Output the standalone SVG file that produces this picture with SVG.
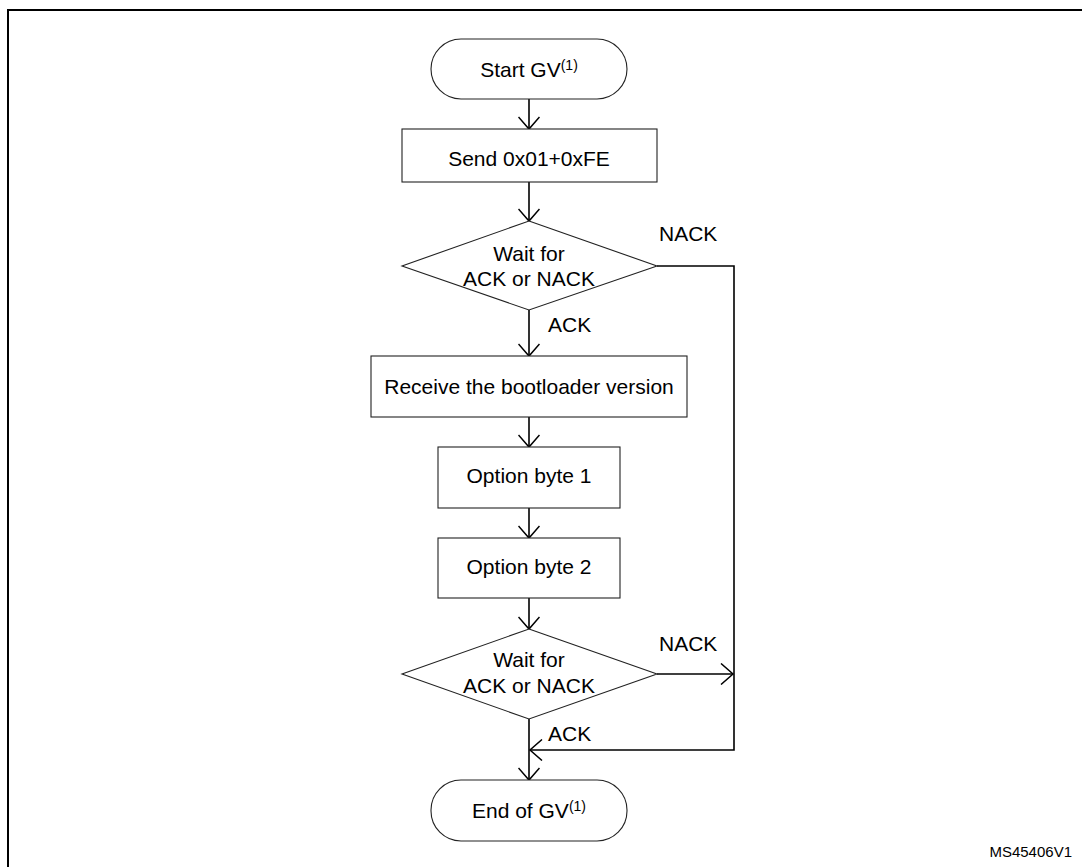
<svg xmlns="http://www.w3.org/2000/svg" width="1082" height="867" viewBox="0 0 1082 867">
  <defs>
    <marker id="arr" viewBox="-13 -11 15 22" refX="0" refY="0" markerWidth="15" markerHeight="22" markerUnits="userSpaceOnUse" orient="auto">
      <path d="M -12 -10.5 L 0 0 L -12 10.5" fill="none" stroke="#000" stroke-width="1.5"/>
    </marker>
    <style>
      .shape { fill: #fff; stroke: #222; stroke-width: 1.1; }
      .conn { fill: none; stroke: #000; stroke-width: 1.6; }
      .t { font-family: "Liberation Sans", Arial, sans-serif; font-size: 21px; fill: #000; }
      .c { text-anchor: middle; }
      .sup { font-size: 14px; }
      .ref { font-family: "Liberation Sans", Arial, sans-serif; font-size: 15px; fill: #000; }
    </style>
  </defs>
  <rect x="0" y="0" width="1082" height="867" fill="#fff"/>
  <rect x="8" y="10" width="1100" height="900" fill="none" stroke="#000" stroke-width="2"/>

  <g id="connectors">
    <line class="conn" x1="529" y1="99" x2="529" y2="129" marker-end="url(#arr)"/>
    <line class="conn" x1="529" y1="182" x2="529" y2="221" marker-end="url(#arr)"/>
    <line class="conn" x1="529" y1="310" x2="529" y2="356" marker-end="url(#arr)"/>
    <line class="conn" x1="529" y1="417" x2="529" y2="447" marker-end="url(#arr)"/>
    <line class="conn" x1="529" y1="508" x2="529" y2="538" marker-end="url(#arr)"/>
    <line class="conn" x1="529" y1="598" x2="529" y2="629" marker-end="url(#arr)"/>
    <line class="conn" x1="529" y1="719" x2="529" y2="780" marker-end="url(#arr)"/>
    <polyline class="conn" points="657,266 734,266 734,750 530,750" marker-end="url(#arr)"/>
    <line class="conn" x1="657" y1="674" x2="733" y2="674" marker-end="url(#arr)"/>
    <text class="t" x="659" y="241">NACK</text>
    <text class="t" x="548" y="332">ACK</text>
    <text class="t" x="659" y="651">NACK</text>
    <text class="t" x="548" y="741">ACK</text>
  </g>

  <g id="start">
    <rect class="shape" x="431" y="39" width="196" height="60" rx="30" ry="30"/>
    <text class="t c" x="529" y="77">Start GV<tspan class="sup" dy="-7">(1)</tspan></text>
  </g>

  <g id="send">
    <rect class="shape" x="402" y="129" width="255" height="53"/>
    <text class="t c" x="529" y="166">Send 0x01+0xFE</text>
  </g>

  <g id="wait1">
    <polygon class="shape" points="529,221 657,266 529,310 402,266"/>
    <text class="t c" x="529" y="261">Wait for</text>
    <text class="t c" x="529" y="286">ACK or NACK</text>
  </g>

  <g id="receive">
    <rect class="shape" x="371" y="356" width="316" height="61"/>
    <text class="t c" x="529" y="394">Receive the bootloader version</text>
  </g>

  <g id="opt1">
    <rect class="shape" x="438" y="447" width="182" height="61"/>
    <text class="t c" x="529" y="483">Option byte 1</text>
  </g>

  <g id="opt2">
    <rect class="shape" x="438" y="538" width="182" height="60"/>
    <text class="t c" x="529" y="574">Option byte 2</text>
  </g>

  <g id="wait2">
    <polygon class="shape" points="529,629 657,674 529,719 402,674"/>
    <text class="t c" x="529" y="667">Wait for</text>
    <text class="t c" x="529" y="693">ACK or NACK</text>
  </g>

  <g id="end">
    <rect class="shape" x="431" y="780" width="196" height="61" rx="30" ry="30"/>
    <text class="t c" x="529" y="818">End of GV<tspan class="sup" dy="-7">(1)</tspan></text>
  </g>

  <text class="ref" x="1072" y="857" text-anchor="end">MS45406V1</text>
</svg>
